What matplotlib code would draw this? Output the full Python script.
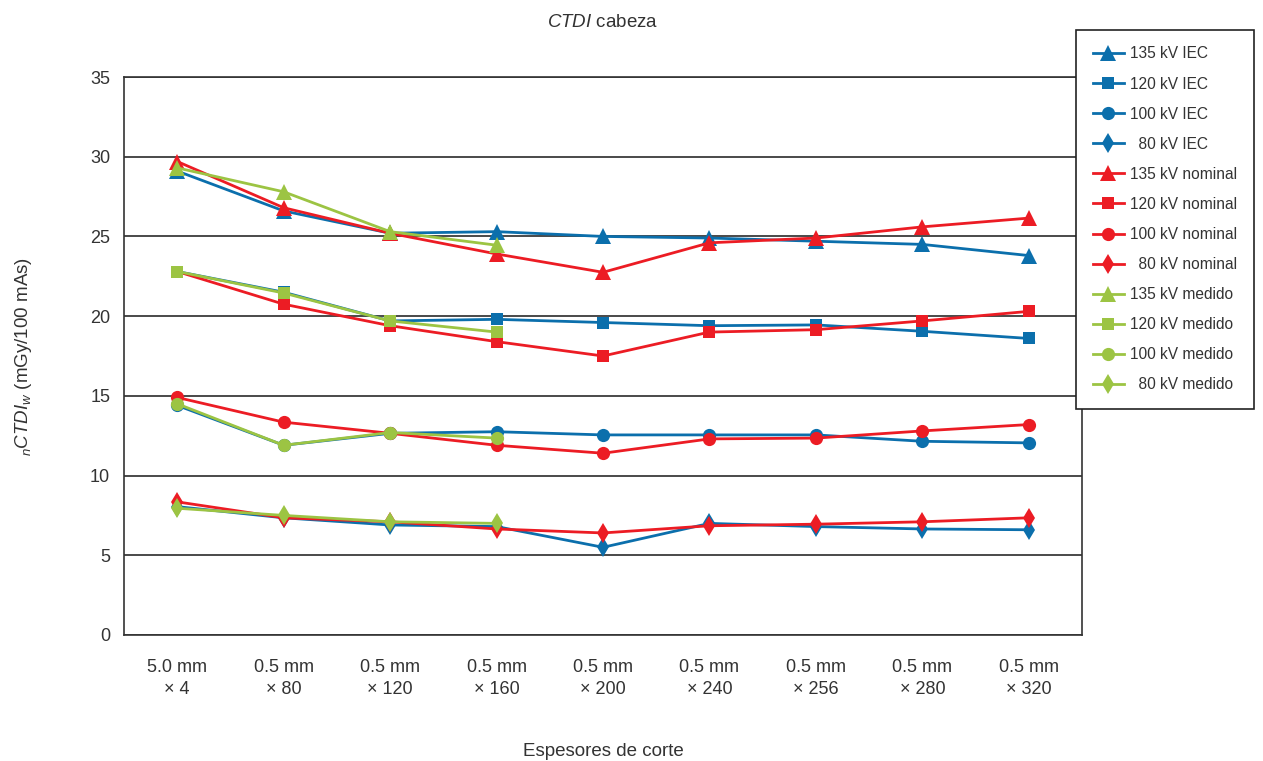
import numpy as np
import matplotlib
matplotlib.use("Agg")
import matplotlib.pyplot as plt

plt.rcParams['font.family'] = ['Liberation Sans', 'DejaVu Sans']
plt.rcParams['mathtext.fontset'] = 'custom'
plt.rcParams['mathtext.rm'] = 'Liberation Sans'
plt.rcParams['mathtext.it'] = 'Liberation Sans:italic'

# categorias del eje x
categorias = ["5.0 mm\n× 4", "0.5 mm\n× 80", "0.5 mm\n× 120", "0.5 mm\n× 160",
              "0.5 mm\n× 200", "0.5 mm\n× 240", "0.5 mm\n× 256", "0.5 mm\n× 280",
              "0.5 mm\n× 320"]

# IEC
iec_135 = [29.1, 26.6, 25.2, 25.3, 25.0, 24.9, 24.7, 24.5, 23.8]
iec_120 = [22.8, 21.5, 19.7, 19.8, 19.6, 19.4, 19.45, 19.05, 18.6]
iec_100 = [14.4, 11.9, 12.65, 12.75, 12.55, 12.55, 12.55, 12.15, 12.05]
iec_80 = [8.05, 7.35, 6.9, 6.8, 5.5, 7.0, 6.8, 6.65, 6.6]
# nominal
nom_135 = [29.7, 26.8, 25.2, 23.9, 22.75, 24.6, 24.9, 25.6, 26.15]
nom_120 = [22.8, 20.75, 19.4, 18.4, 17.5, 19.0, 19.15, 19.7, 20.3]
nom_100 = [14.9, 13.35, 12.65, 11.9, 11.4, 12.3, 12.35, 12.8, 13.2]
nom_80 = [8.35, 7.35, 7.1, 6.65, 6.4, 6.85, 6.95, 7.1, 7.35]
# medido (solo 4 cortes)
med_135 = [29.3, 27.8, 25.3, 24.45]
med_120 = [22.8, 21.45, 19.7, 19.0]
med_100 = [14.5, 11.9, 12.7, 12.35]
med_80 = [7.95, 7.5, 7.1, 7.0]

azul = '#0B6FAC'
rojo = '#EC1C24'
verde = '#9CC443'

series = [
    (iec_135, azul, '^', 11, '135 kV IEC'),
    (iec_120, azul, 's', 9, '120 kV IEC'),
    (iec_100, azul, 'o', 9.5, '100 kV IEC'),
    (iec_80, azul, 'd', 10, '  80 kV IEC'),
    (nom_135, rojo, '^', 11, '135 kV nominal'),
    (nom_120, rojo, 's', 9, '120 kV nominal'),
    (nom_100, rojo, 'o', 9.5, '100 kV nominal'),
    (nom_80, rojo, 'd', 10, '  80 kV nominal'),
    (med_135, verde, '^', 11, '135 kV medido'),
    (med_120, verde, 's', 9, '120 kV medido'),
    (med_100, verde, 'o', 9.5, '100 kV medido'),
    (med_80, verde, 'd', 10, '  80 kV medido'),
]

fig = plt.figure(figsize=(12.63, 7.61), dpi=100)
ax = fig.add_axes([0.0982, 0.1656, 0.7585, 0.7332])

for vals, col, mk, ms, lab in series:
    x = np.arange(len(vals))
    ax.plot(x, vals, color=col, lw=2, marker=mk, markersize=ms,
            markeredgewidth=0, label=lab)

ax.set_xlim(-0.5, len(categorias) - 0.5)
ax.set_ylim(0, 35)
ax.set_yticks(np.arange(0, 36, 5))
ax.set_xticks(np.arange(len(categorias)))
ax.set_xticklabels(categorias, fontsize=13, color='#333333', linespacing=1.45)
ax.tick_params(axis='y', labelsize=13, labelcolor='#333333', length=0, pad=10)
ax.tick_params(axis='x', length=0, pad=17)
ax.yaxis.grid(True, color='#3a3a3a', lw=1.3)
ax.set_axisbelow(True)
for s in ax.spines.values():
    s.set_color('#333333')
    s.set_linewidth(1.2)

ax.set_title(r'$\mathit{CTDI}$ cabeza', fontsize=13.5, color='#333333', pad=36)
ax.set_xlabel('Espesores de corte', fontsize=13.5, color='#333333', labelpad=32)
ax.set_ylabel(r'$_{n}\mathit{CTDI}_{w}$ (mGy/100 mAs)', fontsize=13.5,
              color='#333333', labelpad=40)

leg = fig.legend(loc='upper left', bbox_to_anchor=(0.852, 0.961),
                 frameon=True, fancybox=False, edgecolor='#222222', framealpha=1,
                 fontsize=11.2, labelspacing=0.97, handlelength=2.0,
                 handletextpad=0.4, borderpad=1.08, borderaxespad=0)
leg.get_frame().set_linewidth(1.2)
for t in leg.get_texts():
    t.set_color('#333333')

fig.savefig('out.png', dpi=100)
